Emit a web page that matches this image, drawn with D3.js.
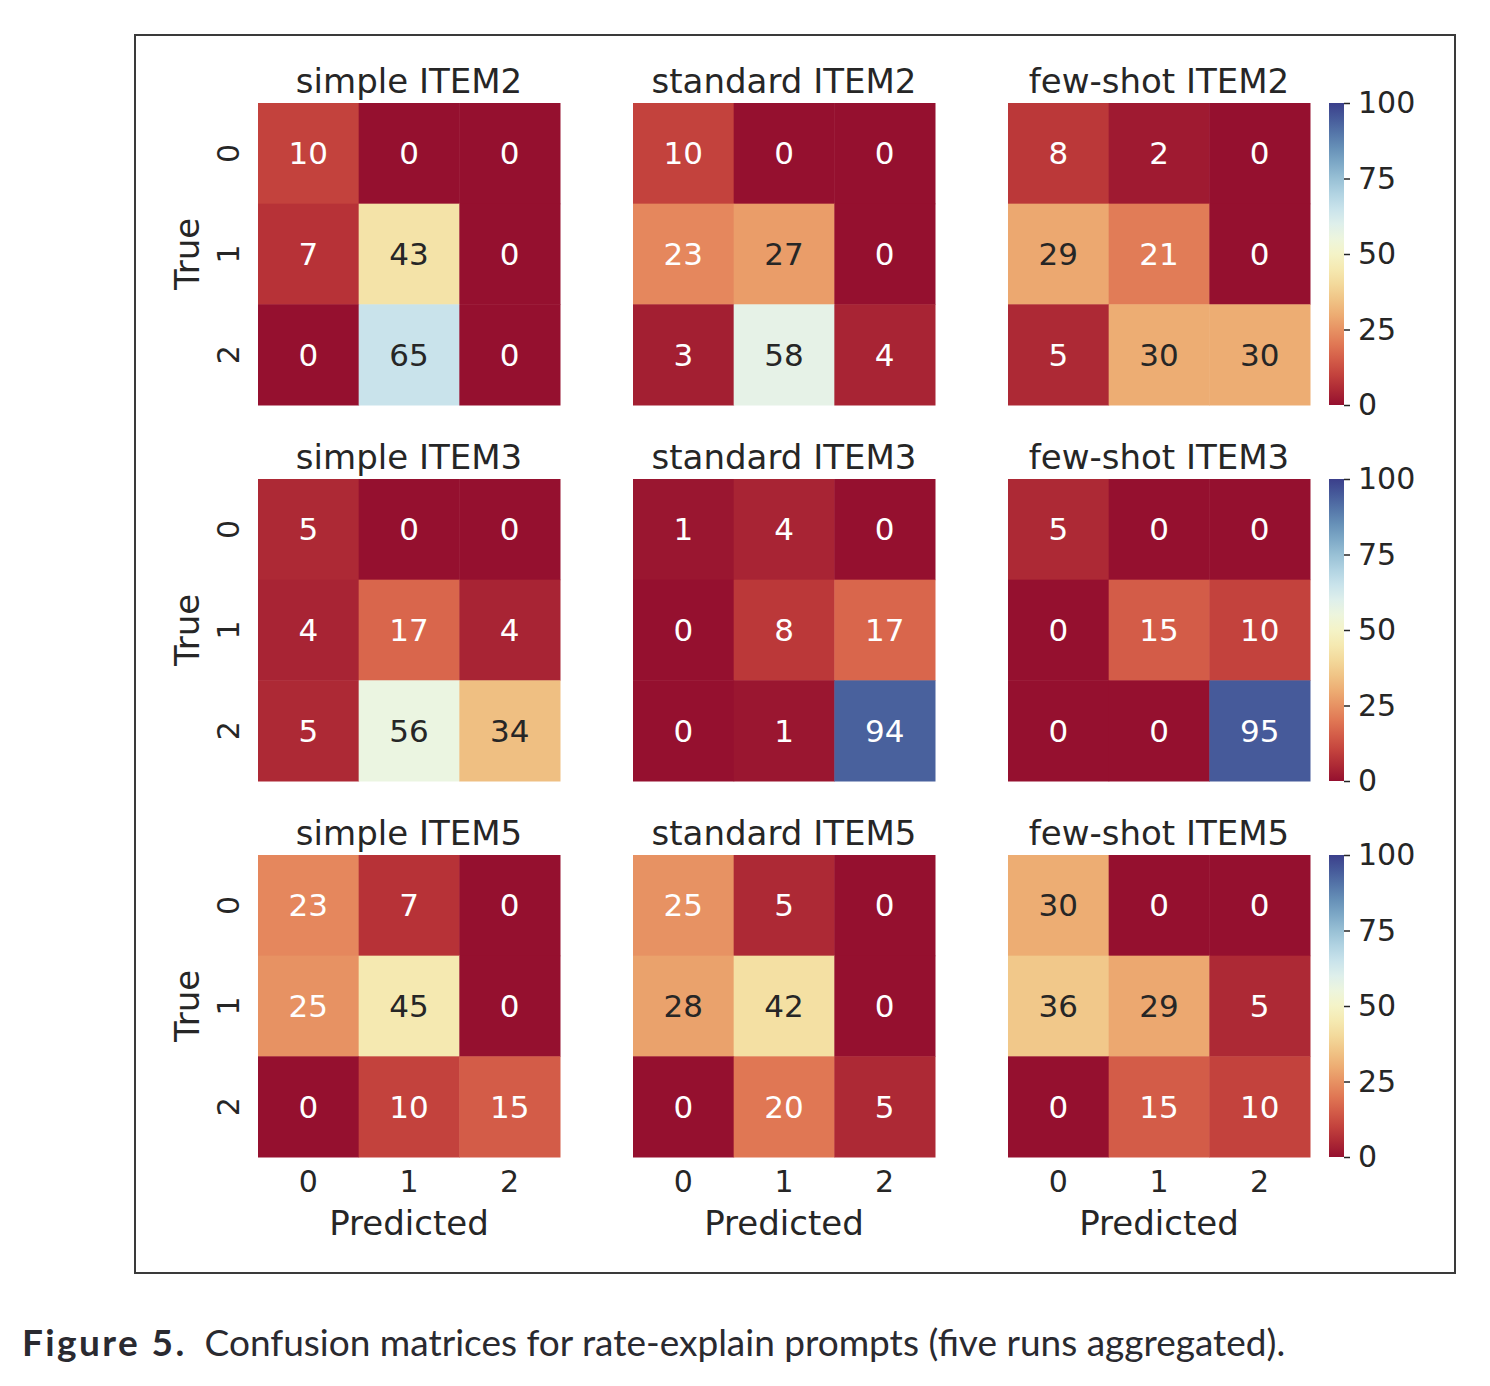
<!DOCTYPE html>
<html>
<head>
<meta charset="utf-8">
<script src="https://cdn.jsdelivr.net/npm/d3@7"></script>
<style>
  html, body { margin: 0; padding: 0; background: #fff; }
  svg { display: block; }
</style>
</head>
<body>
<svg id="chart" width="1490" height="1386"></svg>
<script>
// ---- data ----
const prompts = ["simple", "standard", "few-shot"];
const items = ["ITEM2", "ITEM3", "ITEM5"];
const classLabels = ["0", "1", "2"];
const colorbarTicks = [0, 25, 50, 75, 100];

const simpleITEM2   = [[10, 0, 0], [7, 43, 0], [0, 65, 0]];
const standardITEM2 = [[10, 0, 0], [23, 27, 0], [3, 58, 4]];
const fewshotITEM2  = [[8, 2, 0], [29, 21, 0], [5, 30, 30]];
const simpleITEM3   = [[5, 0, 0], [4, 17, 4], [5, 56, 34]];
const standardITEM3 = [[1, 4, 0], [0, 8, 17], [0, 1, 94]];
const fewshotITEM3  = [[5, 0, 0], [0, 15, 10], [0, 0, 95]];
const simpleITEM5   = [[23, 7, 0], [25, 45, 0], [0, 10, 15]];
const standardITEM5 = [[25, 5, 0], [28, 42, 0], [0, 20, 5]];
const fewshotITEM5  = [[30, 0, 0], [36, 29, 5], [0, 15, 10]];

const matrices = [
  [simpleITEM2, standardITEM2, fewshotITEM2],
  [simpleITEM3, standardITEM3, fewshotITEM3],
  [simpleITEM5, standardITEM5, fewshotITEM5]
];

const captionBold = "Figure 5.";
const captionText = "Confusion matrices for rate-explain prompts (five runs aggregated).";

// ---- layout ----
const svg = d3.select("#chart");
const FONT = "'DejaVu Sans', sans-serif";
const TXT = "#262626";
const panelX = [258, 633, 1008];
const panelY = [103, 479, 855];
const size = 302;
const cbX = 1329, cbW = 15;

const baseColor = v => d3.interpolateRdYlBu(v / 100);
const color = v => {
  const h = d3.hsl(baseColor(v));
  h.s = h.s * 0.8;
  return h.formatHex();
};
function lum(c) {
  const rgb = d3.rgb(c);
  const f = x => { x /= 255; return x <= 0.03928 ? x / 12.92 : Math.pow((x + 0.055) / 1.055, 2.4); };
  return 0.2126 * f(rgb.r) + 0.7152 * f(rgb.g) + 0.0722 * f(rgb.b);
}

// outer frame
svg.append("rect").attr("x", 135).attr("y", 35).attr("width", 1320).attr("height", 1238)
  .attr("fill", "none").attr("stroke", "#3a3a3a").attr("stroke-width", 2);

// gradient
const grad = svg.append("defs").append("linearGradient").attr("id", "cbgrad")
  .attr("x1", 0).attr("y1", 1).attr("x2", 0).attr("y2", 0);
d3.range(0, 101, 5).forEach(v => grad.append("stop").attr("offset", v + "%").attr("stop-color", color(v)));

matrices.forEach((row, ri) => {
  row.forEach((mat, ci) => {
    const g = svg.append("g").attr("transform", `translate(${panelX[ci]},${panelY[ri]})`);
    const x = d3.scaleBand().domain(classLabels).range([0, size]);
    const y = d3.scaleBand().domain(classLabels).range([0, size]);
    const cells = [];
    mat.forEach((r, i) => r.forEach((v, j) => cells.push({ i, j, v })));
    g.selectAll("rect.cell").data(cells).enter().append("rect")
      .attr("x", d => x(classLabels[d.j])).attr("y", d => y(classLabels[d.i]))
      .attr("width", x.bandwidth() + 0.5).attr("height", y.bandwidth() + 0.5)
      .attr("fill", d => color(d.v));
    g.selectAll("text.ann").data(cells).enter().append("text")
      .attr("x", d => x(classLabels[d.j]) + x.bandwidth() / 2)
      .attr("y", d => y(classLabels[d.i]) + y.bandwidth() / 2)
      .attr("dy", "0.36em").attr("text-anchor", "middle")
      .style("font-family", FONT).style("font-size", "31px")
      .attr("fill", d => lum(baseColor(d.v)) > 0.408 ? TXT : "#ffffff")
      .text(d => d.v);
    // title
    g.append("text").attr("x", size / 2).attr("y", -10).attr("text-anchor", "middle")
      .style("font-family", FONT).style("font-size", "34px").attr("fill", TXT)
      .text(`${prompts[ci]} ${items[ri]}`);
    // y ticks & label for first column
    if (ci === 0) {
      classLabels.forEach(l => {
        g.append("text").attr("transform", `translate(-30,${y(l) + y.bandwidth() / 2}) rotate(-90)`)
          .attr("text-anchor", "middle").attr("dy", "0.36em")
          .style("font-family", FONT).style("font-size", "30px").attr("fill", TXT).text(l);
      });
      g.append("text").attr("transform", `translate(-71,${size / 2}) rotate(-90)`)
        .attr("text-anchor", "middle").attr("dy", "0.36em")
        .style("font-family", FONT).style("font-size", "34px").attr("fill", TXT).text("True");
    }
    // x ticks & label on last row
    if (ri === 2) {
      const ax = g.append("g").attr("transform", `translate(0,${size})`)
        .call(d3.axisBottom(x).tickSize(0).tickPadding(14));
      ax.select(".domain").remove();
      ax.selectAll("text").style("font-family", FONT).style("font-size", "30px").attr("fill", TXT);
      g.append("text").attr("x", size / 2).attr("y", size + 78).attr("text-anchor", "middle")
        .style("font-family", FONT).style("font-size", "34px").attr("fill", TXT).text("Predicted");
    }
  });
  // colorbar
  const cg = svg.append("g").attr("transform", `translate(${cbX},${panelY[ri]})`);
  cg.append("rect").attr("width", cbW).attr("height", size).attr("fill", "url(#cbgrad)");
  const cy = d3.scaleLinear().domain([0, 100]).range([size, 0]);
  const cax = cg.append("g").attr("transform", `translate(${cbW},0)`)
    .call(d3.axisRight(cy).tickValues(colorbarTicks).tickSize(6).tickPadding(8));
  cax.select(".domain").remove();
  cax.selectAll("line").attr("stroke", TXT).attr("stroke-width", 1.5);
  cax.selectAll("text").style("font-family", FONT).style("font-size", "30px").attr("fill", TXT);
});

// caption
const cap = svg.append("text").attr("x", 22).attr("y", 1356)
  .style("font-family", "Lato, 'Open Sans', sans-serif").style("font-size", "37px").attr("fill", "#2a2a30");
cap.append("tspan").style("font-weight", "bold").style("letter-spacing", "2.4px").text(captionBold);
cap.append("tspan").attr("dx", 18).text(captionText);
</script>
</body>
</html>
